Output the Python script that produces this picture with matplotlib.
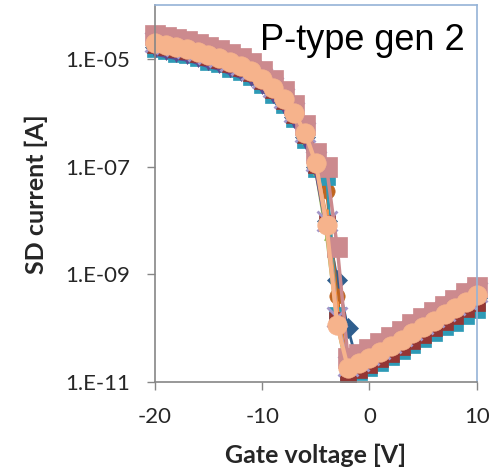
import matplotlib.pyplot as plt
import numpy as np
from matplotlib.ticker import FixedLocator, FuncFormatter, NullLocator

plt.rcParams["axes.unicode_minus"] = False

# Gate voltage [V]
gate_v = [-20, -19, -18, -17, -16, -15, -14, -13, -12, -11, -10, -9, -8, -7, -6, -5,
          -4, -3, -2, -1, 0, 1, 2, 3, 4, 5, 6, 7, 8, 9, 10]

# log10 of SD current [A], one list per device
dev_blue = [-4.78, -4.82, -4.86, -4.89, -4.95, -5.01, -5.06, -5.14, -5.21, -5.30, -5.45,
            -5.62, -5.82, -6.08, -6.45, -7.00, -8.00, -9.10, -10.00, -10.75, -10.62,
            -10.50, -10.38, -10.26, -10.14, -10.03, -9.91, -9.79, -9.68, -9.56, -9.44]
dev_brown = [-4.80, -4.84, -4.88, -4.91, -4.97, -5.03, -5.08, -5.16, -5.23, -5.32, -5.47,
             -5.64, -5.84, -6.10, -6.47, -7.05, -7.45, -9.40, -10.80, -10.72, -10.62,
             -10.50, -10.39, -10.27, -10.15, -10.04, -9.92, -9.80, -9.69, -9.57, -9.45]
dev_teal = [-4.82, -4.86, -4.90, -4.93, -4.99, -5.05, -5.10, -5.18, -5.25, -5.34, -5.49,
            -5.66, -5.86, -6.12, -6.50, -7.05, -7.20, -9.76, -10.85, -10.82, -10.74,
            -10.64, -10.53, -10.42, -10.31, -10.20, -10.09, -9.98, -9.90, -9.78, -9.66]
dev_green = [-4.84, -4.88, -4.92, -4.95, -5.01, -5.07, -5.12, -5.20, -5.27, -5.36, -5.51,
             -5.68, -5.88, -6.14, -6.52, -7.10, -8.30, -9.95, -10.88, -10.80, -10.70,
             -10.58, -10.47, -10.35, -10.23, -10.12, -10.00, -9.88, -9.77, -9.65, -9.53]
dev_orange = [-4.76, -4.80, -4.84, -4.87, -4.93, -4.99, -5.04, -5.12, -5.19, -5.28, -5.43,
              -5.60, -5.80, -6.06, -6.43, -6.98, -7.90, -9.60, -10.78, -10.70, -10.60,
              -10.48, -10.37, -10.25, -10.13, -10.02, -9.90, -9.78, -9.67, -9.55, -9.43]
dev_purple = [-4.92, -4.96, -5.00, -5.03, -5.09, -5.15, -5.20, -5.28, -5.35, -5.44, -5.59,
              -5.76, -5.96, -6.22, -6.59, -7.15, -8.20, -9.90, -10.80, -10.75, -10.66,
              -10.54, -10.43, -10.31, -10.19, -10.08, -9.96, -9.84, -9.73, -9.61, -9.49]
dev_darkred = [-4.74, -4.78, -4.82, -4.85, -4.91, -4.97, -5.02, -5.10, -5.17, -5.26, -5.41,
               -5.58, -5.78, -6.04, -6.41, -6.96, -8.05, -9.85, -10.85, -10.78, -10.69,
               -10.58, -10.47, -10.35, -10.23, -10.12, -10.00, -9.88, -9.77, -9.65, -9.53]
dev_lavender = [-4.68, -4.72, -4.76, -4.79, -4.85, -4.91, -4.96, -5.04, -5.11, -5.20, -5.35,
                -5.52, -5.72, -5.98, -6.35, -6.90, -8.00, -9.80, -10.70, -10.60, -10.50,
                -10.38, -10.27, -10.15, -10.03, -9.92, -9.80, -9.68, -9.57, -9.45, -9.33]
dev_mauve = [-4.55, -4.59, -4.63, -4.66, -4.72, -4.78, -4.83, -4.91, -4.98, -5.07, -5.22,
             -5.39, -5.59, -5.85, -6.22, -6.75, -7.00, -8.50, -10.55, -10.48, -10.38,
             -10.28, -10.17, -10.05, -9.93, -9.81, -9.70, -9.58, -9.47, -9.35, -9.24]
dev_peach = [-4.70, -4.74, -4.78, -4.81, -4.87, -4.93, -4.98, -5.06, -5.13, -5.22, -5.37,
             -5.54, -5.74, -6.00, -6.37, -6.93, -8.09, -9.94, -10.74, -10.65, -10.56,
             -10.44, -10.33, -10.21, -10.09, -9.98, -9.86, -9.74, -9.63, -9.51, -9.39]

y_ticks = [1e-11, 1e-9, 1e-7, 1e-5]
x_ticks = [-20, -10, 0, 10]

# (data, color, marker, markersize, linewidth)
series = [
    (dev_blue, "#2F5E8E", "D", 10, 2.0),
    (dev_brown, "#C0651F", "o", 11, 2.0),
    (dev_teal, "#2E9AB6", "s", 11, 2.0),
    (dev_green, "#9BBB59", "^", 5, 2.0),
    (dev_orange, "#F79646", "|", 8, 2.0),
    (dev_purple, "#5E4A8E", "v", 5, 1.5),
    (dev_darkred, "#943634", "s", 11, 2.0),
    (dev_lavender, "#A397C9", "x", 15, 2.0),
    (dev_mauve, "#CC8A8E", "s", 14, 2.5),
    (dev_peach, "#F6B38C", "o", 14, 3.0),
]

fig = plt.figure(figsize=(4.9, 4.7), dpi=100)
ax = fig.add_axes([0.316, 0.187, 0.657, 0.802])

x = np.array(gate_v)
for vals, color, marker, ms, lw in series:
    y = np.power(10.0, np.array(vals))
    ax.plot(x, y, color=color, lw=lw, marker=marker, markersize=ms,
            markeredgecolor=color, markeredgewidth=2 if marker in "x|" else 0.5,
            clip_on=False)

ax.set_yscale("log")
ax.set_ylim(1e-11, 1e-4)
ax.set_xlim(-20, 10)
ax.yaxis.set_major_locator(FixedLocator(y_ticks))
ax.yaxis.set_minor_locator(NullLocator())
ax.yaxis.set_major_formatter(FuncFormatter(lambda v, p: f"1.E{int(round(np.log10(v))):03d}"))
ax.set_xticks(x_ticks)

tick_font = "Lato"
for lab in ax.get_xticklabels() + ax.get_yticklabels():
    lab.set_fontfamily(tick_font)
    lab.set_fontsize(16)
    lab.set_color("#262626")

ax.tick_params(axis="both", direction="out", length=6, width=1, color="#868686", pad=12)
ax.spines["left"].set_color("#868686")
ax.spines["bottom"].set_color("#868686")
ax.spines["top"].set_color("#95B3D7")
ax.spines["right"].set_color("#95B3D7")
for s in ax.spines.values():
    s.set_linewidth(1.2)

ax.set_xlabel("Gate voltage [V]", fontfamily=tick_font, fontweight="bold", fontsize=18,
              color="#262626", labelpad=12)
ax.set_ylabel("SD current [A]", fontfamily=tick_font, fontweight="bold", fontsize=18,
              color="#262626", labelpad=12)

ax.text(0.963, 0.881, "P-type gen 2", transform=ax.transAxes, ha="right", va="baseline",
        fontfamily="Liberation Sans", fontsize=26, color="black")

fig.savefig("out.png", dpi=100)
